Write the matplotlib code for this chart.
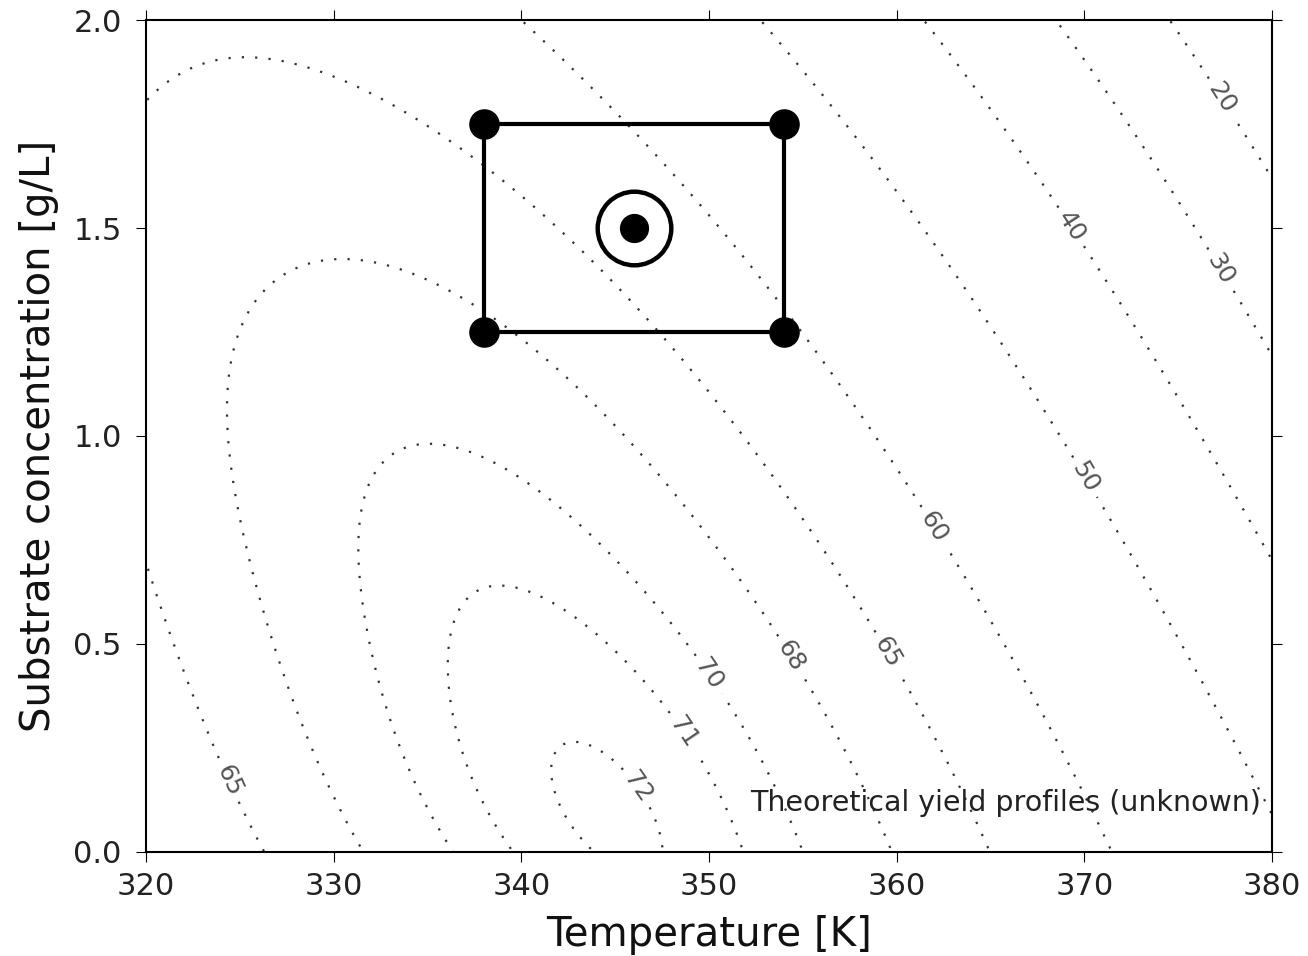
import numpy as np
import matplotlib
matplotlib.use('Agg')
import matplotlib.pyplot as plt

# points: (temperature [K], substrate [g/L])
y72 = [(343.65, 0.0), (343.3, 0.024), (342.93, 0.048), (342.16, 0.108), (341.68, 0.18),
       (341.6, 0.229), (341.58, 0.257), (341.87, 0.281), (342.35, 0.297), (342.93, 0.293),
       (343.5, 0.281), (344.48, 0.249), (344.9, 0.225), (347.2, 0.06), (347.6, 0.012),
       (347.7, 0.0)]
y71 = [(339.9, 0.0), (339.65, 0.024), (339.07, 0.076), (338.3, 0.148), (337.63, 0.229),
       (337.24, 0.281), (336.76, 0.333), (336.56, 0.417), (336.56, 0.50), (336.74, 0.56),
       (337.3, 0.603), (337.9, 0.623), (338.5, 0.635), (339.06, 0.635), (339.64, 0.634),
       (340.2, 0.623), (340.8, 0.615), (341.4, 0.603), (342.35, 0.572), (342.8, 0.55),
       (343.8, 0.51), (344.67, 0.473), (345.44, 0.433), (346.3, 0.389), (346.7, 0.365),
       (349.3, 0.189), (349.9, 0.144), (351.3, 0.016)]
y70 = [(336.2, 0.0), (335.89, 0.024), (335.02, 0.076), (334.34, 0.152), (333.67, 0.229),
       (333.19, 0.285), (332.6, 0.361), (332.12, 0.437), (331.52, 0.552), (331.26, 0.723),
       (331.32, 0.799), (331.61, 0.854), (332.10, 0.904), (332.87, 0.946), (333.88, 0.974),
       (335.10, 0.984), (336.32, 0.976), (337.48, 0.962), (338.62, 0.939), (339.68, 0.912),
       (340.71, 0.882), (341.68, 0.849), (342.64, 0.814), (343.55, 0.776), (344.42, 0.736),
       (345.26, 0.699), (346.07, 0.658), (346.90, 0.615), (347.68, 0.572), (348.7, 0.498),
       (351.08, 0.343), (353.06, 0.197), (354.93, 0.024), (355.0, 0.0)]
y68 = [(331.35, 0.0), (331.16, 0.024), (330.58, 0.076), (330.0, 0.124), (329.52, 0.177),
       (329.03, 0.225), (328.55, 0.277), (328.07, 0.329), (327.68, 0.381), (327.2, 0.433),
       (326.81, 0.486), (326.43, 0.542), (325.71, 0.651), (325.23, 0.731), (324.84, 0.838),
       (324.55, 0.950), (324.41, 1.061), (324.55, 1.169), (324.94, 1.225), (325.32, 1.276),
       (325.90, 1.324), (326.68, 1.365), (327.64, 1.40), (328.81, 1.421), (329.97, 1.429),
       (331.22, 1.426), (332.43, 1.417), (333.59, 1.401), (334.75, 1.38), (335.87, 1.354),
       (336.93, 1.328), (337.48, 1.314), (339.93, 1.234), (340.90, 1.20), (341.83, 1.163),
       (342.74, 1.127), (343.65, 1.087), (344.48, 1.049), (345.31, 1.01), (346.15, 0.97),
       (346.96, 0.928), (347.77, 0.885), (348.55, 0.842), (349.32, 0.799), (350.79, 0.715),
       (351.87, 0.651), (352.96, 0.575), (355.42, 0.389), (356.31, 0.317), (357.3, 0.245),
       (358.19, 0.173), (358.97, 0.096), (359.8, 0.0)]
y65 = [(326.33, 0.0), (326.04, 0.028), (325.46, 0.076), (323.73, 0.257), (323.34, 0.285),
       (322.95, 0.333), (322.47, 0.385), (321.99, 0.437), (321.6, 0.49), (321.06, 0.548),
       (320.48, 0.643), (320.0, 0.679),
       (320.1, 1.819), (321.65, 1.868), (322.81, 1.891), (323.97, 1.904), (325.23, 1.908),
       (326.39, 1.905), (327.65, 1.895), (328.81, 1.881), (329.97, 1.864), (331.13, 1.843),
       (332.20, 1.819), (333.26, 1.795), (334.37, 1.766), (335.39, 1.735), (336.40, 1.703),
       (337.37, 1.67), (338.39, 1.638), (339.79, 1.584), (341.2, 1.53), (342.11, 1.492),
       (346.4, 1.291), (347.58, 1.232), (349.5, 1.125), (349.9, 1.105), (350.69, 1.061),
       (352.96, 0.93), (355.42, 0.774), (358.47, 0.563), (360.85, 0.373), (362.1, 0.265),
       (363.31, 0.152), (364.79, 0.026), (364.9, 0.0)]
y60 = [(340.6, 1.974), (342.0, 1.919), (343.7, 1.839), (345.0, 1.779), (346.2, 1.719),
       (347.9, 1.64), (349.9, 1.536), (350.7, 1.49), (353.74, 1.317), (355.22, 1.229),
       (357.0, 1.117), (358.77, 1.002), (360.83, 0.866), (363.2, 0.69), (365.07, 0.551),
       (367.26, 0.381), (369.23, 0.2), (371.16, 0.028)]
y50 = [(353.6, 1.957), (355.5, 1.847), (357.5, 1.739), (359.4, 1.628), (361.5, 1.492),
       (363.3, 1.392), (365.27, 1.257), (367.24, 1.121), (368.91, 0.986), (371.18, 0.814),
       (373.15, 0.675), (374.62, 0.551), (377.1, 0.337), (378.99, 0.173)]
y40 = [(362.0, 1.965), (363.9, 1.855), (365.6, 1.743), (367.4, 1.628), (368.1, 1.58),
       (370.49, 1.42), (372.75, 1.241), (375.11, 1.041), (377.28, 0.89), (379.45, 0.762)]
y30 = [(369.1, 1.96), (371.6, 1.803), (373.9, 1.64), (376.0, 1.504), (378.76, 1.297),
       (379.45, 1.249)]
y20 = [(375.2, 1.957), (376.3, 1.883), (378.6, 1.715), (379.3, 1.667)]

levels = [20, 30, 40, 50, 60, 65, 68, 70, 71, 72]
readings = [y20, y30, y40, y50, y60, y65, y68, y70, y71, y72]

# experimental design: box corners and centre point
box_T = [338, 338, 354, 354, 338]
box_S = [1.25, 1.75, 1.75, 1.25, 1.25]
center_T = [346]
center_S = [1.5]

# where the level labels sit
label_pos = [(377.2, 1.81), (377.2, 1.40), (369.2, 1.50), (370.0, 0.90), (361.9, 0.78),
             (359.1, 0.47), (324.4, 0.17), (354.3, 0.47), (349.8, 0.42), (348.0, 0.27),
             (346.05, 0.15)]

# smooth surface through the read contour points:
# yield = top - sqrt(Q), Q a least squares polynomial (weighted so errors count in yield units)
deg = 6
top = 72.5
pts = np.array([(t, s, lev) for lev, r in zip(levels, readings) for t, s in r])


def basis(t, s):
    x = (np.asarray(t) - 350.0) / 30.0
    y = np.asarray(s) - 1.0
    return np.stack([x**i * y**j for i in range(deg + 1) for j in range(deg + 1 - i)], axis=-1)


gap = top - pts[:, 2]
w = 1.0 / gap
A = basis(pts[:, 0], pts[:, 1]) * w[:, None]
coef = np.linalg.lstsq(A, gap**2 * w, rcond=None)[0]
TT, SS = np.meshgrid(np.linspace(318, 382, 500), np.linspace(-0.05, 2.05, 500))
ZZ = top - np.sqrt(np.clip(basis(TT, SS) @ coef, 0, None))

fig = plt.figure(figsize=(13.08, 9.56), dpi=100)
ax = fig.add_axes([0.1116, 0.109, 0.861, 0.870])

cs = ax.contour(TT, SS, ZZ, levels=levels, colors='#333333', linewidths=1.6,
                linestyles=[(0, (1, 5))] * len(levels))
ax.clabel(cs, levels, manual=label_pos, fmt='%d', fontsize=18, colors='#555555',
          inline=True, inline_spacing=6)

ax.plot(box_T, box_S, '-', color='black', lw=3, zorder=4)
ax.plot(box_T[:4], box_S[:4], 'o', color='black', ms=21, zorder=5)
ax.plot(center_T, center_S, 'o', color='black', ms=20, zorder=5)
ax.plot(center_T, center_S, 'o', mfc='none', mec='black', mew=3.2, ms=53, zorder=5)

ax.text(0.99, 0.059, 'Theoretical yield profiles (unknown)', transform=ax.transAxes,
        ha='right', va='center', fontsize=20.5, color='#222222')

ax.set_xlim(320, 380)
ax.set_ylim(0, 2)
ax.set_xticks([320, 330, 340, 350, 360, 370, 380])
ax.set_yticks([0.0, 0.5, 1.0, 1.5, 2.0])
ax.tick_params(direction='out', top=True, right=True, length=7.5, width=0.8,
               labelsize=22, labelcolor='#222222')
ax.tick_params(axis='x', pad=7)
ax.tick_params(axis='y', pad=10)
for sp in ax.spines.values():
    sp.set_linewidth(1.5)
ax.set_xlabel('Temperature [K]', fontsize=29, labelpad=10, color='#111111')
ax.set_ylabel('Substrate concentration [g/L]', fontsize=29, labelpad=10, color='#111111')

fig.savefig('out.png', dpi=100)
